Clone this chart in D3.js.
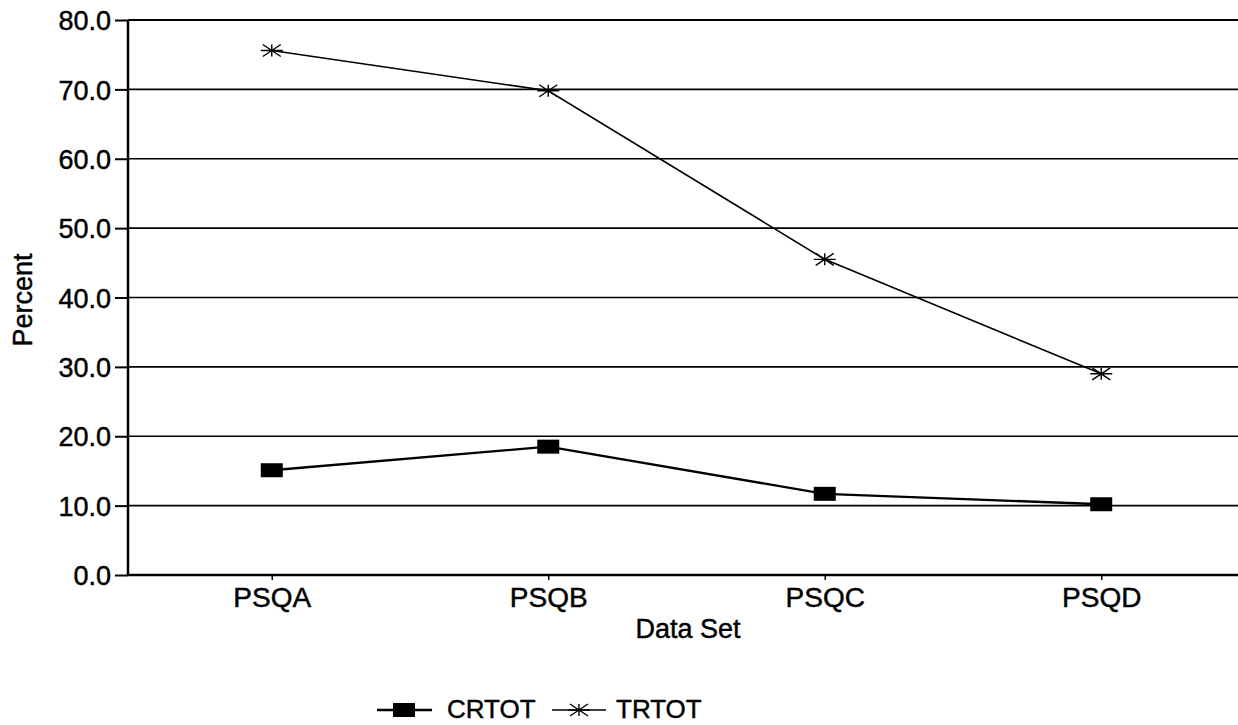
<!DOCTYPE html>
<html><head><meta charset="utf-8">
<script src="https://cdn.jsdelivr.net/npm/d3@7"></script>
<style>body{margin:0;background:#fff}svg{display:block}text{font-family:"Liberation Sans",Arial,sans-serif;fill:#000;stroke:#000;stroke-width:0.45px}</style>
</head><body><svg id="c" width="1238" height="725"></svg>
<script>
const categories = ["PSQA","PSQB","PSQC","PSQD"];
const crtot = [15.1, 18.5, 11.7, 10.2];
const trtot = [75.6, 69.8, 45.5, 29.0];
const yTicks = [0,10,20,30,40,50,60,70,80];
const seriesNames = ["CRTOT","TRTOT"];

const svg = d3.select("#c");
const L = 128, R = 1245, T = 20, B = 575;
const x = d3.scalePoint().domain(categories).range([L, R]).padding(0.52);
const y = d3.scaleLinear().domain([0,80]).range([B, T]);

// gridlines
svg.append("g").selectAll("line").data(yTicks.filter(d=>d>0)).join("line")
  .attr("x1", L).attr("x2", 1238).attr("y1", d=>y(d)).attr("y2", d=>y(d))
  .attr("stroke","#000").attr("stroke-width", d=>d===80?2.2:1.6);

// y axis
const ya = svg.append("g").attr("transform",`translate(${L},0)`)
  .call(d3.axisLeft(y).tickValues(yTicks).tickFormat(d3.format(".1f")).tickSize(13).tickPadding(4));
ya.select(".domain").attr("stroke-width",2.5).attr("d",`M0,${T}V${B}`);
ya.selectAll(".tick line").attr("stroke-width",2);
ya.selectAll("text").style("font-size","27px").attr("dy","0.36em");

// x axis
const xa = svg.append("g").attr("transform",`translate(0,${B})`)
  .call(d3.axisBottom(x).tickSize(5).tickPadding(3));
xa.select(".domain").attr("stroke-width",2.5).attr("d",`M${L},0H1238`);
xa.selectAll(".tick line").attr("stroke-width",1.5);
xa.selectAll("text").style("font-size","28px").attr("dy","0.86em");

// titles
svg.append("text").attr("x", 688).attr("y", 638).attr("text-anchor","middle")
  .style("font-size","27px").text("Data Set");
svg.append("text").attr("transform","translate(32,300) rotate(-90)").attr("text-anchor","middle")
  .style("font-size","27px").text("Percent");

const line = d3.line().x((d,i)=>x(categories[i])).y(d=>y(d));
svg.append("path").datum(trtot).attr("d",line).attr("fill","none").attr("stroke","#000").attr("stroke-width",1.6);
svg.append("path").datum(crtot).attr("d",line).attr("fill","none").attr("stroke","#000").attr("stroke-width",2.4);

function star(g, cx, cy){
  const w=11, h=6;
  g.append("path").attr("d",`M${cx-w},${cy}H${cx+w}M${cx-w+2},${cy-h}L${cx+w-2},${cy+h}M${cx-w+2},${cy+h}L${cx+w-2},${cy-h}M${cx},${cy-h}V${cy+h}`)
    .attr("stroke","#000").attr("stroke-width",1.4).attr("fill","none");
}
const sg = svg.append("g");
trtot.forEach((v,i)=>star(sg, x(categories[i]), y(v)));
svg.append("g").selectAll("rect").data(crtot).join("rect")
  .attr("x",(d,i)=>x(categories[i])-11).attr("y",d=>y(d)-7).attr("width",22).attr("height",14).attr("fill","#000");

// legend
const lg = svg.append("g");
lg.append("line").attr("x1",377).attr("x2",432).attr("y1",710).attr("y2",710).attr("stroke","#000").attr("stroke-width",2.4);
lg.append("rect").attr("x",393).attr("y",703).attr("width",22).attr("height",14).attr("fill","#000");
lg.append("text").attr("x",447).attr("y",718).style("font-size","26px").text(seriesNames[0]);
lg.append("line").attr("x1",552).attr("x2",606).attr("y1",710).attr("y2",710).attr("stroke","#000").attr("stroke-width",1.6);
star(lg, 579, 710);
lg.append("text").attr("x",616).attr("y",718).style("font-size","26px").text(seriesNames[1]);
</script></body></html>
